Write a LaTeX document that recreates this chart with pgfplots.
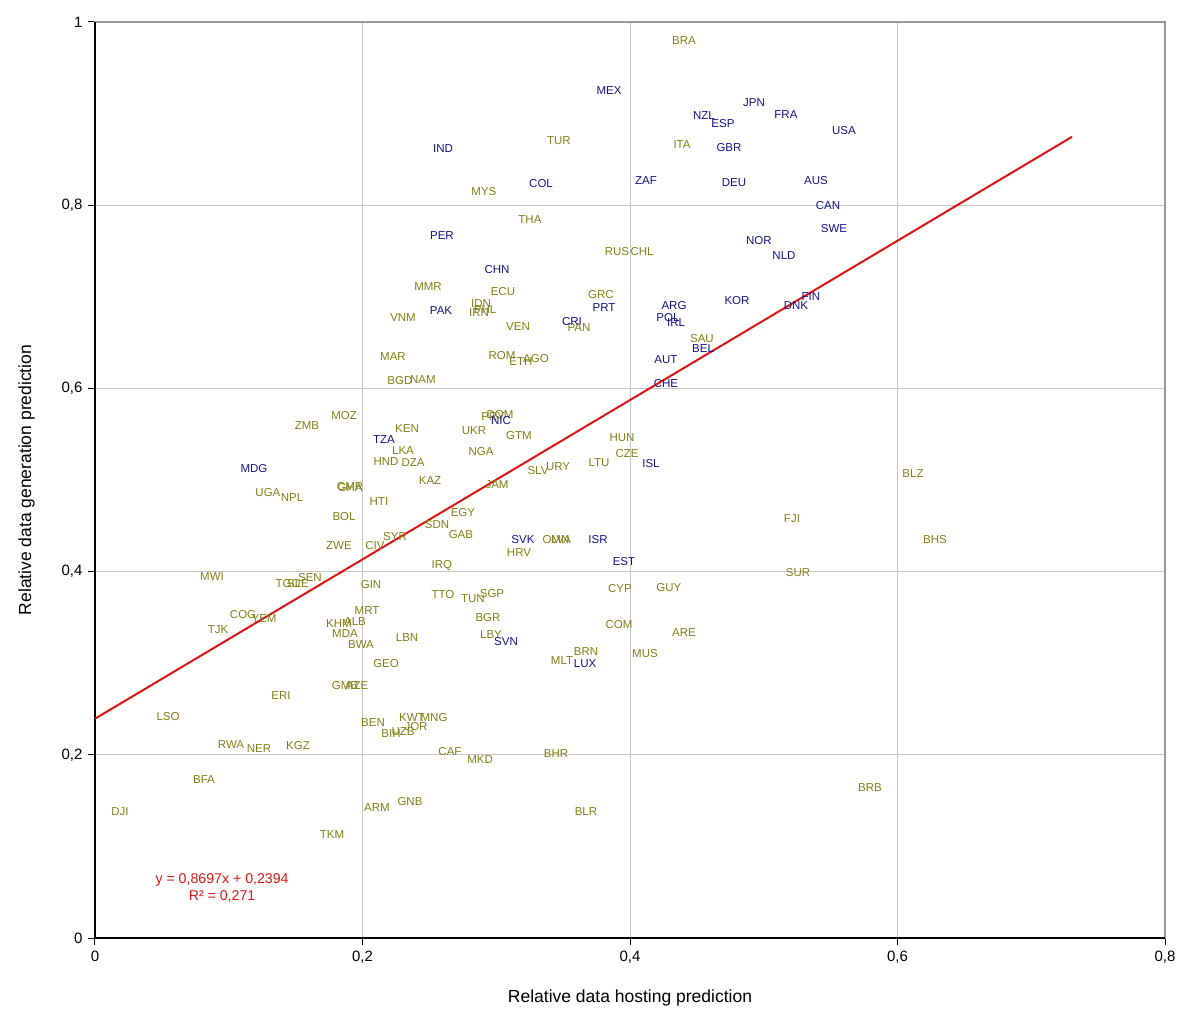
\documentclass[border=0pt]{standalone}
\usepackage{pgfplots}
\pgfplotsset{compat=1.18}
\usepackage{fontspec}
\setmainfont{Liberation Sans}
\definecolor{olivelab}{RGB}{128,128,20}
\definecolor{bluelab}{RGB}{20,20,140}
\definecolor{trendred}{RGB}{220,20,20}
\begin{document}
\begin{tikzpicture}
\begin{axis}[
  scale only axis, width=642pt, height=549.6pt,
  xmin=0, xmax=0.8, ymin=0, ymax=1,
  xtick={0,0.2,0.4,0.6,0.8}, ytick={0,0.2,0.4,0.6,0.8,1},
  /pgf/number format/assume math mode=true,
  /pgf/number format/use comma,
  /pgf/number format/fixed,
  ticklabel style={font=\fontsize{9}{10}\selectfont},
  tick align=outside, major tick length=4pt,
  tick style={black, line width=0.6pt},
  xtick pos=bottom, ytick pos=left,
  grid=major, major grid style={gray!45, line width=0.6pt},
  axis line style={gray!80, line width=0.8pt},
  xlabel={Relative data hosting prediction},
  ylabel={Relative data generation prediction},
  label style={font=\fontsize{10.5}{12}\selectfont},
  xlabel style={at={(axis description cs:0.5,-0.066)}, anchor=center},
  ylabel style={at={(axis description cs:-0.064,0.5)}, anchor=center},
  nodes near coords,
  every node near coord/.append style={anchor=center, inner sep=0pt, font=\fontsize{6.9}{8}\selectfont},
  point meta=explicit symbolic,
  clip=false,
]
\draw[black, line width=1.1pt] (rel axis cs:0,1) -- (rel axis cs:0,0) -- (rel axis cs:1,0);
\addplot[draw=none, mark=none, every node near coord/.append style={text=olivelab}] table[meta=lab] {
x y lab
0.4404 0.9793 BRA
0.3469 0.8701 TUR
0.4389 0.8657 ITA
0.2908 0.8144 MYS
0.3252 0.7838 THA
0.3903 0.7489 RUS
0.4090 0.7489 CHL
0.2490 0.7107 MMR
0.3050 0.7052 ECU
0.3783 0.7020 GRC
0.2886 0.6921 IDN
0.2916 0.6856 PHL
0.2871 0.6823 IRN
0.2303 0.6769 VNM
0.3163 0.6670 VEN
0.3619 0.6659 PAN
0.4538 0.6539 SAU
0.2228 0.6343 MAR
0.3043 0.6354 ROM
0.3185 0.6288 ETH
0.3297 0.6321 AGO
0.2280 0.6081 BGD
0.2452 0.6092 NAM
0.1862 0.5699 MOZ
0.1585 0.5600 ZMB
0.2976 0.5688 PRY
0.3028 0.5710 DOM
0.2333 0.5557 KEN
0.2834 0.5535 UKR
0.3170 0.5480 GTM
0.3940 0.5459 HUN
0.2303 0.5317 LKA
0.2886 0.5306 NGA
0.3978 0.5284 CZE
0.2176 0.5197 HND
0.2378 0.5186 DZA
0.3768 0.5186 LTU
0.3462 0.5142 URY
0.3312 0.5098 SLV
0.6116 0.5076 BLZ
0.1907 0.4934 CMR
0.1907 0.4913 GHA
0.1293 0.4858 UGA
0.1473 0.4814 NPL
0.2505 0.4989 KAZ
0.3006 0.4945 JAM
0.2123 0.4760 HTI
0.2751 0.4640 EGY
0.1862 0.4596 BOL
0.5211 0.4574 FJI
0.2557 0.4509 SDN
0.2736 0.4410 GAB
0.2243 0.4378 SYR
0.6280 0.4345 BHS
0.3447 0.4345 OMN
0.3485 0.4345 LVA
0.1824 0.4280 ZWE
0.2093 0.4280 CIV
0.3170 0.4203 HRV
0.2594 0.4061 IRQ
0.5256 0.3985 SUR
0.0875 0.3941 MWI
0.1607 0.3930 SEN
0.1443 0.3865 TGO
0.1518 0.3865 SLE
0.2064 0.3854 GIN
0.3925 0.3810 CYP
0.4291 0.3821 GUY
0.2602 0.3745 TTO
0.2968 0.3766 SGP
0.2826 0.3701 TUN
0.2034 0.3570 MRT
0.1107 0.3526 COG
0.1264 0.3483 YEM
0.2938 0.3504 BGR
0.1824 0.3428 KHM
0.1944 0.3450 ALB
0.3918 0.3417 COM
0.0920 0.3362 TJK
0.1869 0.3319 MDA
0.4404 0.3330 ARE
0.2333 0.3275 LBN
0.2961 0.3308 LBY
0.1989 0.3199 BWA
0.3671 0.3122 BRN
0.4112 0.3111 MUS
0.3492 0.3024 MLT
0.2176 0.2991 GEO
0.1391 0.2642 ERI
0.1869 0.2751 GMB
0.1959 0.2751 AZE
0.0546 0.2413 LSO
0.2079 0.2347 BEN
0.2370 0.2402 KWT
0.2535 0.2402 MNG
0.2400 0.2314 JOR
0.2213 0.2227 BIH
0.2303 0.2249 UZB
0.1017 0.2107 RWA
0.1226 0.2063 NER
0.1518 0.2096 KGZ
0.2654 0.2041 CAF
0.3447 0.2009 BHR
0.2879 0.1943 MKD
0.0815 0.1725 BFA
0.5794 0.1638 BRB
0.0187 0.1376 DJI
0.2108 0.1419 ARM
0.2355 0.1485 GNB
0.3671 0.1386 BLR
0.1772 0.1135 TKM
};
\addplot[draw=none, mark=none, every node near coord/.append style={text=bluelab}] table[meta=lab] {
x y lab
0.3843 0.9247 MEX
0.2602 0.8614 IND
0.3335 0.8231 COL
0.2594 0.7664 PER
0.3006 0.7293 CHN
0.2587 0.6845 PAK
0.3566 0.6725 CRI
0.3806 0.6878 PRT
0.4553 0.8974 NZL
0.4695 0.8886 ESP
0.4927 0.9116 JPN
0.5166 0.8985 FRA
0.5600 0.8810 USA
0.4740 0.8624 GBR
0.4120 0.8264 ZAF
0.4778 0.8242 DEU
0.5390 0.8264 AUS
0.5480 0.7991 CAN
0.5525 0.7740 SWE
0.4964 0.7609 NOR
0.5151 0.7445 NLD
0.4329 0.6910 ARG
0.4800 0.6954 KOR
0.5353 0.6998 FIN
0.5241 0.6900 DNK
0.4284 0.6769 POL
0.4344 0.6714 IRL
0.4269 0.6310 AUT
0.4546 0.6430 BEL
0.4269 0.6048 CHE
0.3036 0.5644 NIC
0.2161 0.5437 TZA
0.1189 0.5120 MDG
0.4157 0.5175 ISL
0.3200 0.4345 SVK
0.3761 0.4345 ISR
0.3955 0.4105 EST
0.3073 0.3242 SVN
0.3664 0.2991 LUX
};
\addplot[trendred, line width=1.2pt, no marks, nodes near coords={}] coordinates {(0,0.2394) (0.7305,0.8747)};
\node[text=trendred, font=\fontsize{8.5}{10}\selectfont, align=center] at (axis cs:0.095,0.0546) {y = 0,8697x + 0,2394\\R² = 0,271};
\end{axis}
\pgfresetboundingbox
\path ([xshift=-57pt,yshift=-51pt]current axis.south west) rectangle ([xshift=21pt,yshift=13.2pt]current axis.north east);
\end{tikzpicture}
\end{document}
